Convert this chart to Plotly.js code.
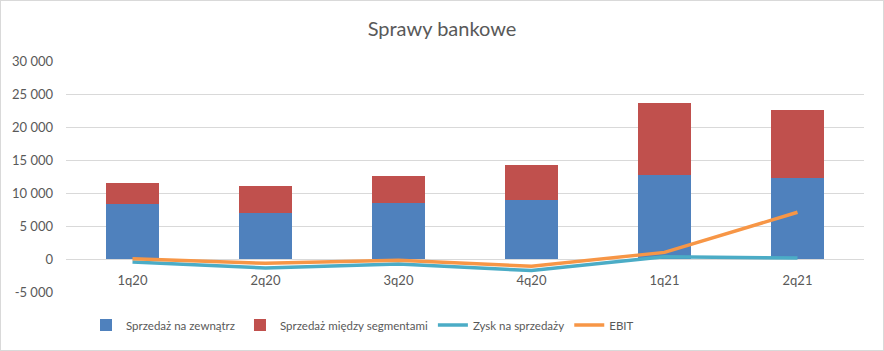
<!DOCTYPE html>
<html><head><meta charset="utf-8">
<script src="https://cdn.plot.ly/plotly-3.0.1.min.js"></script>
<style>html,body{margin:0;padding:0;background:#fff}#chart{width:884px;height:351px;box-sizing:border-box;border:1px solid #d9d9d9}</style>
</head><body><div id="chart"></div>
<script>
const categories = ['1q20','2q20','3q20','4q20','1q21','2q21'];
const sprzedazZewn = [8280, 6930, 8540, 8890, 12800, 12200];
const sprzedazSegm = [3170, 4060, 4110, 5420, 10850, 10390];
const zyskNaSprzedazy = [-450, -1350, -750, -1750, 350, 150];
const ebit = [50, -650, -200, -1100, 1000, 7080];
const yTickVals = [-5000, 0, 5000, 10000, 15000, 20000, 25000, 30000];
const yTickText = ['-5 000', '0', '5 000', '10 000', '15 000', '20 000', '25 000', '30 000'];

const font = 'Lato, "Open Sans", sans-serif';
const grey = '#595959';
const traces = [
  {type:'bar', name:'Sprzedaż na zewnątrz', x:categories, y:sprzedazZewn, marker:{color:'#4f81bd'}},
  {type:'bar', name:'Sprzedaż między segmentami', x:categories, y:sprzedazSegm, marker:{color:'#c0504d'}},
  {type:'scatter', mode:'lines', name:'Zysk na sprzedaży', x:categories, y:zyskNaSprzedazy, line:{color:'#4bacc6', width:3.5}},
  {type:'scatter', mode:'lines', name:'EBIT', x:categories, y:ebit, line:{color:'#f79646', width:3.5}}
];
const layout = {
  width:882, height:349,
  margin:{l:65, r:19, t:60, b:57},
  barmode:'stack', bargap:0.6,
  paper_bgcolor:'#fff', plot_bgcolor:'#fff',
  font:{family:font, color:grey, size:13},
  title:{text:'Sprawy bankowe', font:{family:font, size:20, color:grey}, x:0.5, xanchor:'center', y:1-28/349, yref:'container', yanchor:'middle'},
  xaxis:{anchor:'free', position:33/232, showgrid:false, showline:false, zeroline:false, ticks:'', ticklabelstandoff:12, tickfont:{size:13, color:grey}, fixedrange:true},
  yaxis:{range:[-5000,30000], tickvals:yTickVals, ticktext:yTickText, showgrid:true, gridcolor:'#d9d9d9', gridwidth:1, zeroline:false, showline:false, ticks:'', tickfont:{size:13, color:grey}, ticklabelstandoff:12, fixedrange:true},
  legend:{orientation:'h', x:20/798, xanchor:'left', y:-32/232, yanchor:'middle', font:{size:11.5, color:grey}, traceorder:'normal', itemwidth:30},
  showlegend:true
};
Plotly.newPlot('chart', traces, layout, {displayModeBar:false, staticPlot:true});
</script></body></html>
